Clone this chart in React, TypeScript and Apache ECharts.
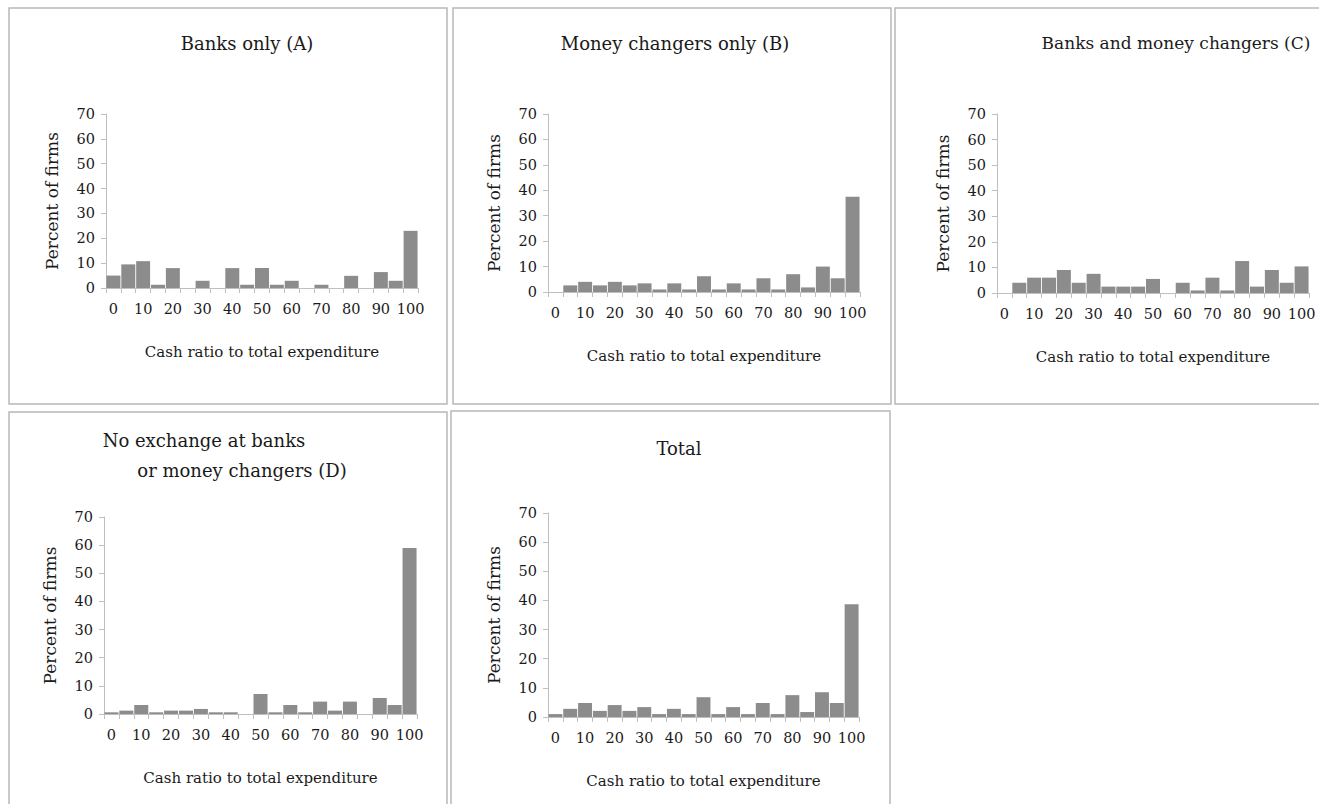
import React, { useEffect, useRef } from "react";
import * as echarts from "echarts";

const categories = ["0","5","10","15","20","25","30","35","40","45","50","55","60","65","70","75","80","85","90","95","100"];

const banksOnly = [5, 9.5, 10.8, 1.3, 8, 0, 2.9, 0, 8, 1.3, 8, 1.3, 2.9, 0, 1.3, 0, 4.9, 0, 6.4, 2.9, 23];
const moneyChangersOnly = [0, 2.6, 4, 2.6, 4, 2.6, 3.4, 1, 3.4, 1, 6.2, 1, 3.4, 1, 5.4, 1, 7, 1.8, 10, 5.4, 37.5];
const banksAndMoneyChangers = [0, 4, 6, 6, 9, 4, 7.5, 2.5, 2.5, 2.5, 5.5, 0, 4, 1, 6, 1, 12.5, 2.5, 9, 4, 10.4];
const noExchange = [0.6, 1.2, 3.2, 0.6, 1.2, 1.2, 1.8, 0.6, 0.6, 0, 7.1, 0.6, 3.2, 0.6, 4.4, 1.2, 4.4, 0, 5.7, 3.2, 59];
const total = [1, 2.8, 4.8, 2.1, 4.1, 2.1, 3.4, 1, 2.8, 1, 6.8, 1, 3.4, 1, 4.8, 1, 7.5, 1.7, 8.5, 4.8, 38.7];

const yTicks = { min: 0, max: 70, interval: 10 };
const xAxisName = "Cash ratio to total expenditure";
const yAxisName = "Percent of firms";

const FONT = "DejaVu Serif";
const AXIS_COLOR = "#bfbfbf";
const BAR_COLOR = "#8c8c8c";
const TEXT_COLOR = "#1a1a1a";

const panels = [
  { data: banksOnly, grid: { left: 106, top: 114, width: 312, height: 174 }, box: [9, 8, 438, 396] },
  { data: moneyChangersOnly, grid: { left: 548, top: 114, width: 312, height: 178 }, box: [453, 8, 438, 396] },
  { data: banksAndMoneyChangers, grid: { left: 997, top: 114, width: 312, height: 179 }, box: [895, 8, 428, 396] },
  { data: noExchange, grid: { left: 104, top: 517, width: 313, height: 197 }, box: [9, 412, 438, 400] },
  { data: total, grid: { left: 548, top: 513, width: 311, height: 204 }, box: [451, 411, 439, 400] },
];

const titles = [
  { text: "Banks only (A)", x: 247, y: 43, size: 18 },
  { text: "Money changers only (B)", x: 675, y: 43, size: 18 },
  { text: "Banks and money changers (C)", x: 1176, y: 43, size: 17 },
  { text: "No exchange at banks", x: 204, y: 440, size: 18 },
  { text: "or money changers (D)", x: 242, y: 470, size: 18 },
  { text: "Total", x: 679, y: 448, size: 18 },
];

export default function App() {
  const ref = useRef<HTMLDivElement>(null);
  useEffect(() => {
    if (!ref.current) return;
    const chart = echarts.init(ref.current, undefined, { renderer: "svg" });
    const grids = panels.map((p) => ({ ...p.grid, containLabel: false }));
    const xAxes = panels.map((p, i) => ({
      type: "category",
      gridIndex: i,
      data: categories,
      name: xAxisName,
      nameLocation: "middle",
      nameGap: 56,
      nameTextStyle: { fontFamily: FONT, fontSize: 15, color: TEXT_COLOR },
      axisLine: { show: true, lineStyle: { color: AXIS_COLOR, width: 1 } },
      axisTick: { show: true, interval: 0, length: 5, lineStyle: { color: AXIS_COLOR } },
      axisLabel: { interval: 1, fontFamily: FONT, fontSize: 14.5, color: TEXT_COLOR, margin: 13 },
      splitLine: { show: false },
    }));
    const yAxes = panels.map((p, i) => ({
      type: "value",
      gridIndex: i,
      min: yTicks.min,
      max: yTicks.max,
      interval: yTicks.interval,
      name: yAxisName,
      nameLocation: "middle",
      nameGap: 46,
      nameTextStyle: { fontFamily: FONT, fontSize: 17, color: TEXT_COLOR },
      axisLine: { show: true, lineStyle: { color: AXIS_COLOR, width: 1 } },
      axisTick: { show: true, length: 5, lineStyle: { color: AXIS_COLOR } },
      axisLabel: { fontFamily: FONT, fontSize: 14.5, color: TEXT_COLOR, margin: 11 },
      splitLine: { show: false },
    }));
    const series = panels.map((p, i) => ({
      type: "bar",
      xAxisIndex: i,
      yAxisIndex: i,
      data: p.data,
      barCategoryGap: "6%",
      itemStyle: { color: BAR_COLOR },
      silent: true,
    }));
    const graphic: any[] = [];
    panels.forEach((p) => {
      const [x, y, w, h] = p.box;
      graphic.push({
        type: "rect",
        shape: { x, y, width: w, height: h },
        style: { fill: "none", stroke: "#b8b8b8", lineWidth: 1.5 },
        silent: true,
      });
    });
    titles.forEach((t) => {
      graphic.push({
        type: "text",
        x: t.x,
        y: t.y,
        style: {
          text: t.text,
          fontFamily: FONT,
          fontSize: t.size,
          fill: TEXT_COLOR,
          align: "center",
          verticalAlign: "middle",
        },
        silent: true,
      });
    });
    chart.setOption({
      animation: false,
      backgroundColor: "#ffffff",
      textStyle: { fontFamily: FONT },
      grid: grids,
      xAxis: xAxes,
      yAxis: yAxes,
      series,
      graphic,
    });
    return () => chart.dispose();
  }, []);
  return (
    <div
      ref={ref}
      style={{ position: "fixed", left: 0, top: 0, width: 1319, height: 804 }}
    />
  );
}
